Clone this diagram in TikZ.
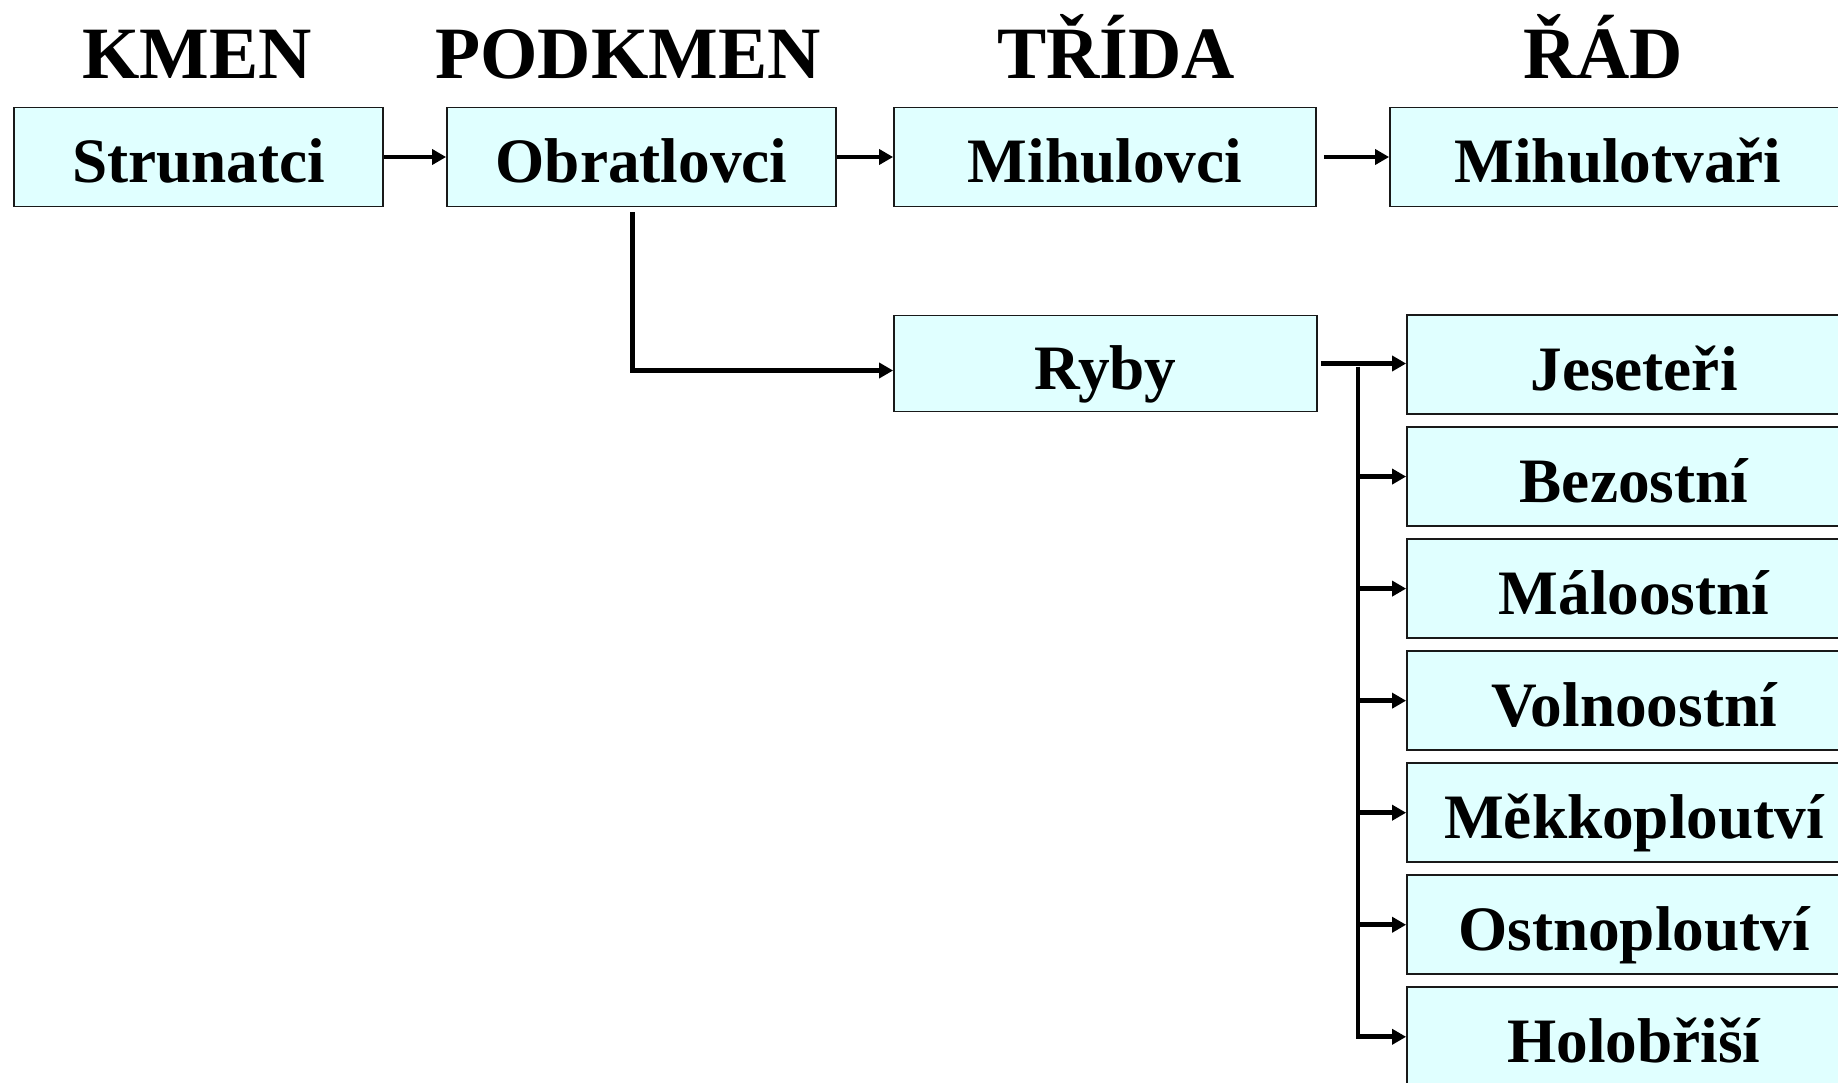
\documentclass[tikz,border=0pt]{standalone}
\usepackage{fontspec}
\setmainfont{Liberation Serif}
\usetikzlibrary{arrows.meta}
\definecolor{boxfill}{RGB}{224,255,255}

\begin{document}
\begin{tikzpicture}[
    box/.style={draw=black!90, line width=0.5pt, fill=boxfill, minimum height=0.99cm,
        inner sep=0pt, font=\fontsize{18}{20}\selectfont\bfseries,
        text height=0.57cm, text depth=0.06cm},
    head/.style={anchor=base, inner sep=0pt, font=\fontsize{21}{24}\selectfont\bfseries},
    link/.style={line width=1.35pt, -{Triangle[length=0.14cm,width=0.15cm]}},
    bar/.style={line width=1.35pt}
]
    \useasboundingbox (0,0) rectangle (18.38,-10.82);
    \clip (0,0) rectangle (18.38,-10.82);

    % Headings
    \node[head] (hkmen) at (1.97,-0.785) {KMEN};
    \node[head] (hpodkmen) at (6.28,-0.785) {PODKMEN};
    \node[head] (htrida) at (11.16,-0.785) {TŘÍDA};
    \node[head] (hrad) at (16.03,-0.785) {ŘÁD};

    % Top row
    \node[box, minimum width=3.69cm] (str) at (1.987,-1.57) {Strunatci};
    \node[box, minimum width=3.89cm] (obr) at (6.415,-1.57) {Obratlovci};
    \node[box, minimum width=4.22cm] (mih) at (11.05,-1.57) {Mihulovci};
    \node[box, minimum width=4.56cm] (mtv) at (16.18,-1.57) {Mihulotvaři};

    \draw[link] (str) -- (obr);
    \draw[link] (obr) -- (mih);
    \draw[link, shorten <=0.07cm] (mih) -- (mtv);

    % Ryby (branch from Obratlovci)
    \node[box, minimum width=4.23cm, minimum height=0.96cm] (ryby) at (11.055,-3.635) {Ryby};
    \draw[link, shorten <=0.05cm] ([xshift=-0.09cm]obr.south) |- ([yshift=-0.07cm]ryby.west);

    % Orders of fish (right column)
    \foreach \name [count=\i from 0] in {Jeseteři,Bezostní,Máloostní,Volnoostní,Měkkoploutví,Ostnoploutví,Holobřiší} {
        \node[box, minimum width=4.54cm] (ord\i) at (16.34,{-3.645-1.1205*\i}) {\name};
    }
    \coordinate (bus) at (13.58,-3.667);

    \draw[link, shorten <=0.03cm] (ryby.east) -- (ryby.east -| ord0.west);
    \draw[link] (bus) |- (ord6.west);
    \foreach \i in {1,...,5}
        \draw[link] (bus |- ord\i.west) -- (ord\i.west);
\end{tikzpicture}
\end{document}
